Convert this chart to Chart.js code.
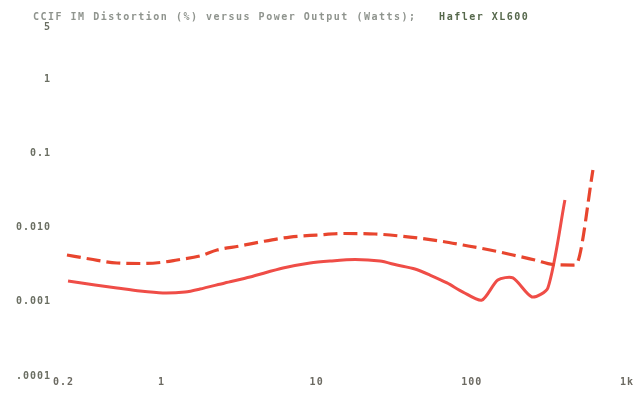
<!DOCTYPE html>
<html><head><meta charset="utf-8">
<script src="https://cdn.jsdelivr.net/npm/chart.js@4"></script>
<style>html,body{margin:0;padding:0;background:#fff;} #wrap{width:636px;height:395px;}</style>
</head><body><div id="wrap"><canvas id="c" width="636" height="395"></canvas></div>
<script>
const titleText = 'CCIF IM Distortion (%) versus Power Output (Watts);';
const titleModel = 'Hafler XL600';
const xTickValues = [0.2, 1, 10, 100, 1000];
const xTickLabels = ['0.2', '1', '10', '100', '1k'];
const yTickValues = [0.0001, 0.001, 0.01, 0.1, 1, 5];
const yTickLabels = ['.0001', '0.001', '0.010', '0.1', '1', '5'];

const solidPower = [0.25, 0.373, 0.517, 0.727, 1.02, 1.42, 1.77, 2.56, 3.72, 6.07, 9.06, 12.2, 17.7, 25.6, 32.9, 43.0, 53.7, 69.2, 87.7, 116, 147, 184, 244, 309, 398];
const solidDist  = [0.0019, 0.00168, 0.00153, 0.00139, 0.00131, 0.00135, 0.00148, 0.00179, 0.00215, 0.00284, 0.00332, 0.00353, 0.0037, 0.00353, 0.00312, 0.00276, 0.00229, 0.00179, 0.00135, 0.00105, 0.00196, 0.00209, 0.00116, 0.00153, 0.0234];

const dashedPower = [0.246, 0.346, 0.517, 0.76, 1.05, 1.26, 1.77, 2.28, 3.2, 4.31, 6.73, 10.0, 15.2, 23.8, 39.9, 62.3, 87.7, 131, 184, 255, 333, 455, 483, 603];
const dashedDist  = [0.00426, 0.00376, 0.00332, 0.00327, 0.00343, 0.00365, 0.00413, 0.00497, 0.00563, 0.00637, 0.00743, 0.0079, 0.00829, 0.00816, 0.00743, 0.00657, 0.0058, 0.00497, 0.00426, 0.00365, 0.00317, 0.00312, 0.0035, 0.0594];

const toPts = (xs, ys) => xs.map((x, i) => ({x: x, y: ys[i]}));

const headingPlugin = {
  id: 'heading',
  beforeDraw(chart) {
    chart.ctx.letterSpacing = '1px';
  },
  afterDraw(chart) {
    const ctx = chart.ctx;
    ctx.save();
    ctx.letterSpacing = '1.5px';
    ctx.font = 'bold 10px "DejaVu Sans Mono"';
    ctx.textBaseline = 'middle';
    ctx.textAlign = 'left';
    ctx.fillStyle = '#8f948e';
    ctx.fillText(titleText, 33, 17);
    const w = ctx.measureText(titleText + '   ').width;
    ctx.fillStyle = '#56684c';
    ctx.fillText(titleModel, 33 + w, 17);
    ctx.restore();
  }
};

new Chart(document.getElementById('c'), {
  type: 'scatter',
  data: {
    datasets: [
      {
        label: 'Dashed curve',
        data: toPts(dashedPower, dashedDist),
        showLine: true,
        borderColor: '#e8452e',
        borderWidth: 3.2,
        borderDash: [14, 6],
        pointRadius: 0,
        cubicInterpolationMode: 'monotone',
        fill: false
      },
      {
        label: 'Solid curve',
        data: toPts(solidPower, solidDist),
        showLine: true,
        borderColor: '#ef4d47',
        borderWidth: 3,
        pointRadius: 0,
        tension: 0.25,
        fill: false
      }
    ]
  },
  options: {
    responsive: false,
    devicePixelRatio: 1,
    animation: false,
    layout: {padding: {left: 0, right: 9, top: 27, bottom: 0}},
    plugins: {legend: {display: false}, title: {display: false}, tooltip: {enabled: false}},
    scales: {
      x: {
        type: 'logarithmic',
        min: 0.2, max: 1000,
        grid: {display: false, drawTicks: false},
        border: {display: false},
        afterBuildTicks: s => { s.ticks = xTickValues.map(v => ({value: v})); },
        afterFit: s => { s.height = 19; },
        ticks: {
          autoSkip: false, maxRotation: 0, padding: 0,
          color: '#6c6a62',
          font: {family: 'DejaVu Sans Mono', size: 10, weight: 'bold'},
          callback: v => { const i = xTickValues.indexOf(v); const t = i >= 0 ? xTickLabels[i] : ''; return i === 0 ? '   ' + t : t; }
        }
      },
      y: {
        type: 'logarithmic',
        min: 0.0001, max: 5,
        grid: {display: false, drawTicks: false},
        border: {display: false},
        afterBuildTicks: s => { s.ticks = yTickValues.map(v => ({value: v})); },
        afterFit: s => { s.width = 53; },
        ticks: {
          autoSkip: false, padding: 2,
          color: '#6b6f63',
          font: {family: 'DejaVu Sans Mono', size: 10, weight: 'bold'},
          callback: v => { const i = yTickValues.indexOf(v); return i >= 0 ? yTickLabels[i] : ''; }
        }
      }
    }
  },
  plugins: [headingPlugin]
});
</script>
</body></html>
